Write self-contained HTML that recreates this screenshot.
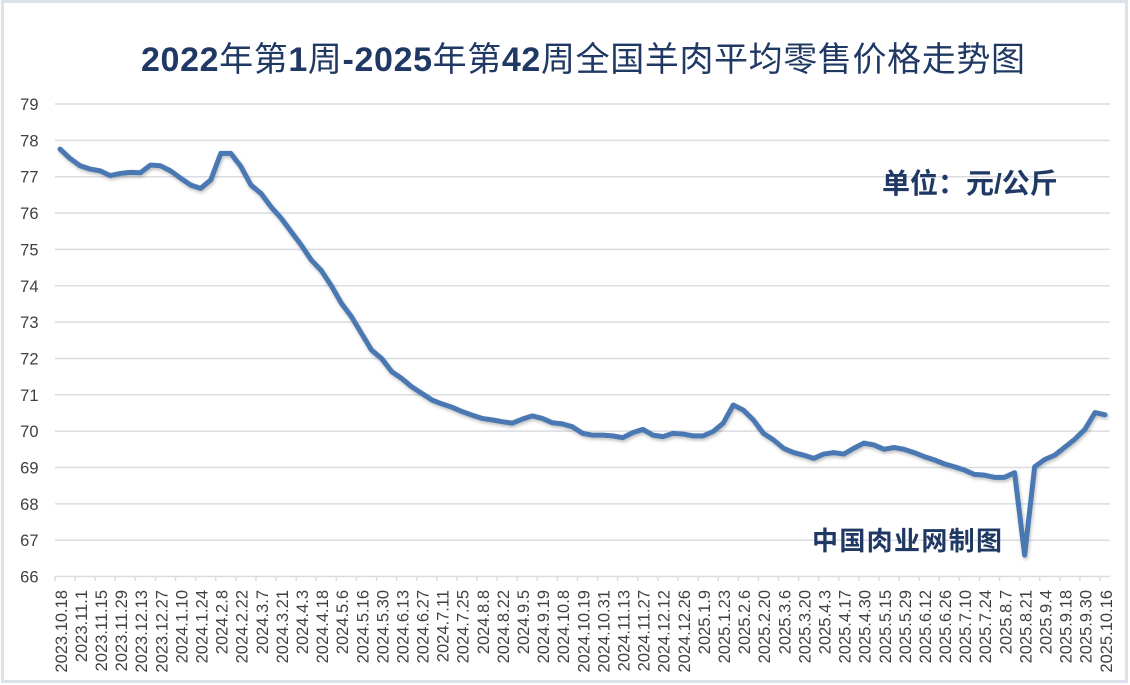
<!DOCTYPE html>
<html><head><meta charset="utf-8"><style>
html,body{margin:0;padding:0;background:#fff;}
svg{display:block;}
</style></head><body>
<svg width="1130" height="685" viewBox="0 0 1130 685" xmlns="http://www.w3.org/2000/svg">
<defs>
<filter id="sh" x="-5%" y="-5%" width="110%" height="110%">
<feDropShadow dx="1" dy="2" stdDeviation="1.5" flood-color="#000" flood-opacity="0.25"/>
</filter>
</defs>
<rect x="0" y="0" width="1130" height="685" fill="#fff"/>
<rect x="2.5" y="1.5" width="1124" height="680" fill="none" stroke="#dbe2ec" stroke-width="3"/>

<!-- title -->
<text x="141" y="71" textLength="884" lengthAdjust="spacing" font-family="'Liberation Sans','Noto Sans CJK SC',sans-serif" font-size="34" fill="#1f3864"><tspan font-weight="bold">2022</tspan>年第<tspan font-weight="bold">1</tspan>周<tspan font-weight="bold">-2025</tspan>年第<tspan font-weight="bold">42</tspan>周全国羊肉平均零售价格走势图</text>

<!-- gridlines -->
<g stroke="#d9dce1" stroke-width="1.5">
<line x1="55" x2="1110" y1="104" y2="104"/>
<line x1="55" x2="1110" y1="140.35" y2="140.35"/>
<line x1="55" x2="1110" y1="176.7" y2="176.7"/>
<line x1="55" x2="1110" y1="213.05" y2="213.05"/>
<line x1="55" x2="1110" y1="249.4" y2="249.4"/>
<line x1="55" x2="1110" y1="285.75" y2="285.75"/>
<line x1="55" x2="1110" y1="322.1" y2="322.1"/>
<line x1="55" x2="1110" y1="358.45" y2="358.45"/>
<line x1="55" x2="1110" y1="394.8" y2="394.8"/>
<line x1="55" x2="1110" y1="431.15" y2="431.15"/>
<line x1="55" x2="1110" y1="467.5" y2="467.5"/>
<line x1="55" x2="1110" y1="503.85" y2="503.85"/>
<line x1="55" x2="1110" y1="540.2" y2="540.2"/>
<line x1="55" x2="1110" y1="576.55" y2="576.55"/>
</g>

<!-- y labels -->
<g font-family="'Liberation Sans',sans-serif" font-size="16.5" fill="#404040" text-anchor="end">
<text x="38.5" y="110">79</text>
<text x="38.5" y="146.4">78</text>
<text x="38.5" y="182.7">77</text>
<text x="38.5" y="219.1">76</text>
<text x="38.5" y="255.4">75</text>
<text x="38.5" y="291.8">74</text>
<text x="38.5" y="328.1">73</text>
<text x="38.5" y="364.5">72</text>
<text x="38.5" y="400.8">71</text>
<text x="38.5" y="437.2">70</text>
<text x="38.5" y="473.5">69</text>
<text x="38.5" y="509.9">68</text>
<text x="38.5" y="546.2">67</text>
<text x="38.5" y="582.6">66</text>
</g>

<!-- ticks -->
<g id="ticks" stroke="#d9dce1" stroke-width="1.5"></g>

<!-- x labels -->
<g id="xl" font-family="'Liberation Sans',sans-serif" font-size="16.5" fill="#404040" text-anchor="end"></g>

<!-- annotations -->
<text x="882" y="193" font-family="'Liberation Sans','Noto Sans CJK SC',sans-serif" font-size="28" font-weight="bold" fill="#1f3864">单位：元/公斤</text>
<text x="812" y="550" textLength="190" lengthAdjust="spacing" font-family="'Liberation Sans','Noto Sans CJK SC',sans-serif" font-size="26" font-weight="bold" fill="#1f3864">中国肉业网制图</text>

<!-- series -->
<g filter="url(#sh)">
<g transform="translate(60.02,104) scale(10.048,36.35)">
<polyline fill="none" stroke="#4a78b2" stroke-width="5" stroke-linejoin="round" stroke-linecap="round" vector-effect="non-scaling-stroke" points="
0,1.24 1,1.50 2,1.70 3,1.79 4,1.84 5,1.97 6,1.91 7,1.88 8,1.89 9,1.68
10,1.70 11,1.84 12,2.04 13,2.23 14,2.32 15,2.09 16,1.36 17,1.36 18,1.72 19,2.23
20,2.46 21,2.83 22,3.14 23,3.51 24,3.88 25,4.29 26,4.58 27,5.00 28,5.48 29,5.85
30,6.31 31,6.77 32,7.00 33,7.36 34,7.55 35,7.78 36,7.96 37,8.14 38,8.25 39,8.34
40,8.46 41,8.56 42,8.65 43,8.69 44,8.74 45,8.78 46,8.67 47,8.58 48,8.65 49,8.77
50,8.80 51,8.88 52,9.06 53,9.11 54,9.11 55,9.13 56,9.18 57,9.04 58,8.95 59,9.11
60,9.15 61,9.06 62,9.08 63,9.13 64,9.13 65,9.01 66,8.78 67,8.28 68,8.42 69,8.69
70,9.06 71,9.24 72,9.47 73,9.59 74,9.66 75,9.75 76,9.63 77,9.59 78,9.63 79,9.47
80,9.33 81,9.38 82,9.50 83,9.45 84,9.50 85,9.59 86,9.70 87,9.79 88,9.90 89,9.98
90,10.07 91,10.19 92,10.21 93,10.27 94,10.27 95,10.14 96,12.41 97,9.98 98,9.78 99,9.66
100,9.44 101,9.22 102,8.95 103,8.49 104,8.55"/>
</g>
</g>
</svg>
<script>
(function(){
var ns="http://www.w3.org/2000/svg";
var t=document.getElementById("ticks");
for(var k=0;k<=52;k++){
  var x=55+20.096*k;
  var l=document.createElementNS(ns,"line");
  l.setAttribute("x1",x);l.setAttribute("x2",x);
  l.setAttribute("y1",576.5);l.setAttribute("y2",581);
  t.appendChild(l);
}
var labels=["2023.10.18","2023.11.1","2023.11.15","2023.11.29","2023.12.13","2023.12.27","2024.1.10","2024.1.24","2024.2.8","2024.2.22","2024.3.7","2024.3.21","2024.4.3","2024.4.18","2024.5.6","2024.5.16","2024.5.30","2024.6.13","2024.6.27","2024.7.11","2024.7.25","2024.8.8","2024.8.22","2024.9.5","2024.9.19","2024.10.8","2024.10.19","2024.10.31","2024.11.13","2024.11.27","2024.12.12","2024.12.26","2025.1.9","2025.1.23","2025.2.6","2025.2.20","2025.3.6","2025.3.20","2025.4.3","2025.4.17","2025.4.30","2025.5.15","2025.5.29","2025.6.12","2025.6.26","2025.7.10","2025.7.24","2025.8.7","2025.8.21","2025.9.4","2025.9.18","2025.9.30","2025.10.16"];
var g=document.getElementById("xl");
for(var i=0;i<labels.length;i++){
  var cx=60.02+10.048*(2*i)+1+5.8;
  var tx=document.createElementNS(ns,"text");
  tx.setAttribute("transform","translate("+cx.toFixed(2)+",590) rotate(-90)");
  tx.setAttribute("x","0");tx.setAttribute("y","0");
  tx.textContent=labels[i];
  g.appendChild(tx);
}
})();
</script>
</body></html>
